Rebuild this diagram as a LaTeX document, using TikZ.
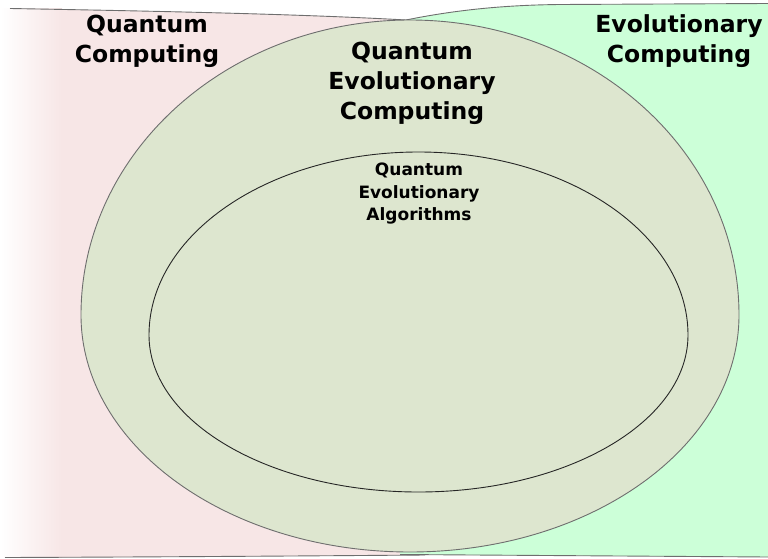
\documentclass[tikz,border=0pt]{standalone}
\usepackage{fontspec}
\setmainfont{DejaVu Sans}
\usepackage{tikz}
\usetikzlibrary{positioning}
\definecolor{qcpink}{HTML}{F7E6E6}
\definecolor{ecgreen}{HTML}{CCFFD8}
\definecolor{qecfill}{HTML}{DDE6CF}
\definecolor{edgegrey}{HTML}{6E6E6E}

\begin{document}
\begin{tikzpicture}[
  x=1pt, y=-1pt,
  region/.style={draw=none},
  rim/.style={draw=edgegrey, line width=0.9pt},
  bigtxt/.style={font=\bfseries\fontsize{23.5}{30}\selectfont, align=center, inner sep=0pt},
  smalltxt/.style={font=\bfseries\fontsize{17}{22.5}\selectfont, align=center, inner sep=0pt}
]
\useasboundingbox (0,0) rectangle (768,559);

% quantum computing (left)
\path[region, fill=qcpink] (0,8.5) -- (10,8.5) .. controls (150,11) and (300,14) .. (406,20)
  -- (440,300) -- (425,555) .. controls (300,556) and (150,557) .. (0,557.5) -- cycle;
\begin{scope}
  \clip (0,0) rectangle (62,559);
  \shade[left color=white, right color=qcpink] (0,8.5) rectangle (62,557.5);
\end{scope}
\draw[rim] (10,8.5) .. controls (150,11) and (300,14) .. (406,20);
\draw[rim] (425,555) .. controls (300,556) and (150,557) .. (5,557.5);

% evolutionary computing (right)
\path[region, fill=ecgreen] (406,20) .. controls (460,9) and (510,5) .. (560,4.5) -- (768,3.5)
  -- (768,557) -- (400,554.5) -- (380,300) -- cycle;
\draw[rim] (406,20) .. controls (460,9) and (510,5) .. (560,4.5) -- (768,3.5);
\draw[rim] (400,554.5) -- (768,557);

% quantum evolutionary computing
\draw[rim, fill=qecfill] (81,315) arc[start angle=180, end angle=360, x radius=329, y radius=295]
  arc[start angle=0, end angle=180, x radius=329, y radius=237] -- cycle;
% quantum evolutionary algorithms
\draw[draw=black!85, line width=0.9pt] (149,335) arc[start angle=180, end angle=360, x radius=269.5, y radius=183]
  arc[start angle=0, end angle=180, x radius=269.5, y radius=157] -- cycle;

\node[bigtxt] (qc) at (147,41) {Quantum\\Computing};
\node[bigtxt] (ec) at (679,41) {Evolutionary\\Computing};
\node[bigtxt] (qec) at (412,83) {Quantum\\Evolutionary\\Computing};
\node[smalltxt] (qea) at (419,194) {Quantum\\Evolutionary\\Algorithms};
\end{tikzpicture}
\end{document}
